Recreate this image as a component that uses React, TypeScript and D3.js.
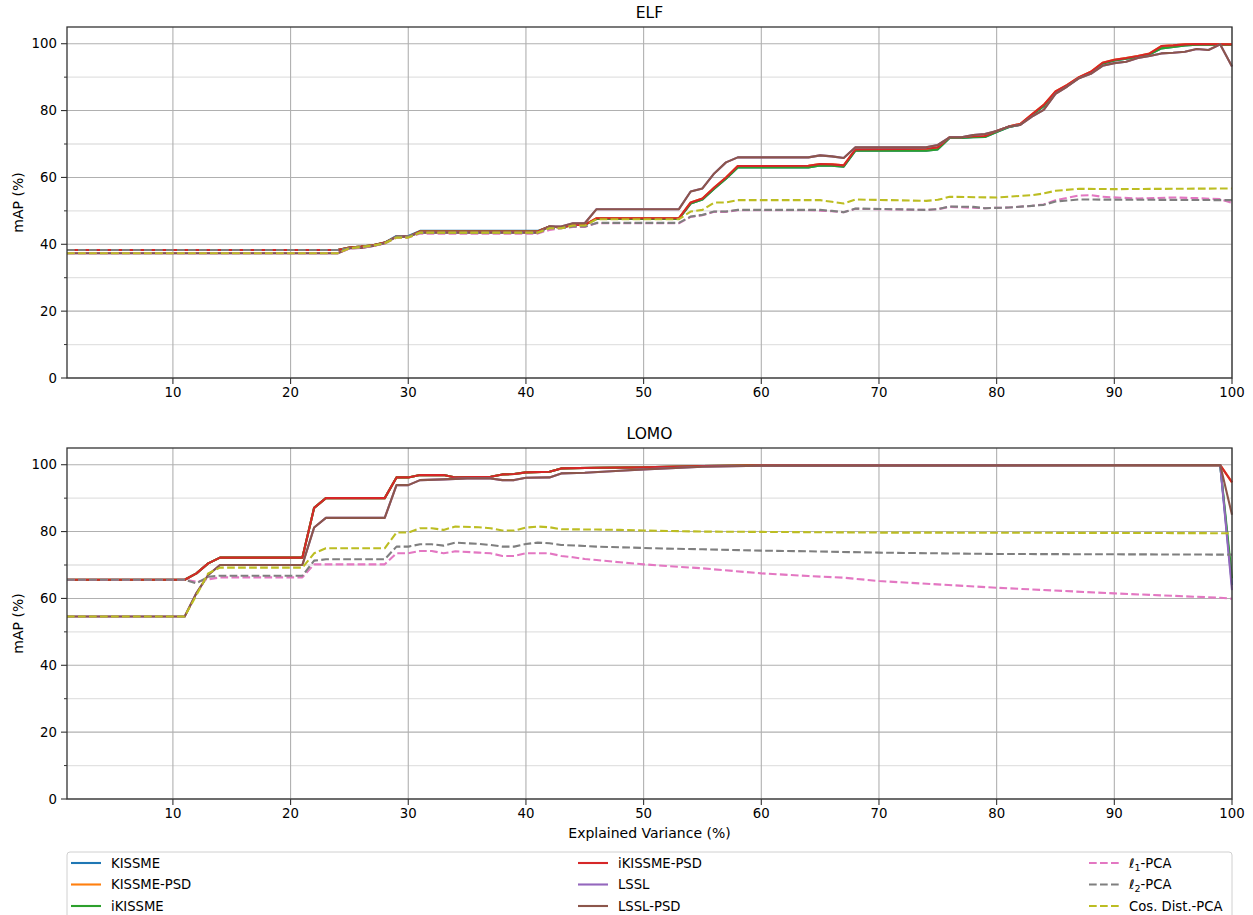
import * as d3 from "d3";
import React from "react";

type Pt = [number, number];

// ---- data ----
const methodNames = [
  "KISSME",
  "KISSME-PSD",
  "iKISSME",
  "iKISSME-PSD",
  "LSSL",
  "LSSL-PSD",
  "l1-PCA",
  "l2-PCA",
  "Cos. Dist.-PCA",
];
const methodColors = d3.schemeCategory10.slice(0, 9);
const dashedMethods = ["l1-PCA", "l2-PCA", "Cos. Dist.-PCA"];

const xTicks = [10, 20, 30, 40, 50, 60, 70, 80, 90, 100];
const yTicks = [0, 20, 40, 60, 80, 100];
const yMinorTicks = [10, 30, 50, 70, 90];

// ELF
const elfIkissmePsd: Pt[] = [
  [1, 38.3], [24, 38.3], [25, 39.0], [26, 39.3], [27, 39.7], [28, 40.5], [29, 42.3], [30, 42.3],
  [31, 43.8], [41, 43.8], [42, 45.3], [43, 45.0], [44, 45.8], [45, 45.8], [46, 47.8], [53, 47.8],
  [54, 52.5], [55, 53.7], [56, 57.0], [57, 60.0], [58, 63.4], [64, 63.5], [65, 64.0], [66, 63.9],
  [67, 63.6], [68, 68.4], [74, 68.6], [75, 69.0], [76, 72.0], [77, 72.0], [78, 72.3], [79, 72.4],
  [80, 73.9], [81, 75.2], [82, 76.0], [83, 78.9], [84, 81.7], [85, 85.7], [86, 87.7], [87, 90.0],
  [88, 91.6], [89, 94.3], [90, 95.2], [91, 95.7], [92, 96.3], [93, 97.1], [94, 99.3], [95, 99.5],
  [96, 99.8], [97, 99.9], [100, 99.8],
];
const elfKissmePsd: Pt[] = elfIkissmePsd;
const elfIkissme: Pt[] = [
  [1, 38.3], [24, 38.3], [25, 39.0], [26, 39.3], [27, 39.7], [28, 40.5], [29, 42.3], [30, 42.3],
  [31, 43.8], [41, 43.8], [42, 45.3], [43, 45.0], [44, 45.8], [45, 45.8], [46, 47.6], [53, 47.6],
  [54, 52.2], [55, 53.4], [56, 56.6], [57, 59.6], [58, 63.0], [64, 63.0], [65, 63.6], [66, 63.5],
  [67, 63.2], [68, 68.0], [74, 68.0], [75, 68.4], [76, 71.8], [77, 71.8], [78, 72.0], [79, 72.1],
  [80, 73.6], [81, 75.0], [82, 75.8], [83, 78.6], [84, 81.3], [85, 85.4], [86, 87.4], [87, 89.8],
  [88, 91.3], [89, 94.0], [90, 95.0], [91, 95.5], [92, 96.0], [93, 96.8], [94, 98.6], [95, 99.0],
  [96, 99.5], [97, 99.7], [100, 99.7],
];
const elfKissme: Pt[] = [
  [1, 38.3], [24, 38.3], [25, 39.0], [26, 39.3], [27, 39.7], [28, 40.5], [29, 42.5], [30, 42.5],
  [31, 44.0], [41, 44.0], [42, 45.3], [43, 45.0], [44, 45.8], [45, 45.8], [46, 47.6], [53, 47.6],
  [54, 52.2], [55, 53.4], [56, 56.6], [57, 59.6], [58, 63.0], [64, 63.0], [65, 63.6], [66, 63.5],
  [67, 63.2], [68, 68.0], [74, 68.0], [75, 68.4], [76, 71.8], [77, 71.8], [78, 72.0], [79, 72.1],
  [80, 73.6], [81, 75.0], [82, 75.8], [83, 78.6], [84, 81.3], [85, 85.4], [86, 87.4], [87, 89.8],
  [88, 91.3], [89, 94.0], [90, 95.0], [91, 95.5], [92, 96.0], [93, 96.8], [94, 98.6], [95, 99.0],
  [96, 99.5], [97, 99.7], [100, 99.7],
];
const elfLsslPsd: Pt[] = [
  [1, 37.3], [24, 37.3], [25, 38.8], [26, 38.9], [27, 39.5], [28, 40.3], [29, 42.3], [30, 42.3],
  [31, 43.5], [41, 43.5], [42, 45.3], [43, 45.3], [44, 46.3], [45, 46.3], [46, 50.5], [53, 50.5],
  [54, 55.8], [55, 56.7], [56, 61.2], [57, 64.5], [58, 66.0], [64, 66.0], [65, 66.6], [66, 66.3],
  [67, 65.8], [68, 69.0], [74, 69.0], [75, 69.7], [76, 72.0], [77, 72.0], [78, 72.7], [79, 73.0],
  [80, 73.9], [81, 75.2], [82, 75.7], [83, 78.2], [84, 80.2], [85, 85.0], [86, 87.2], [87, 89.7],
  [88, 91.0], [89, 93.4], [90, 94.2], [91, 94.6], [92, 95.7], [93, 96.3], [94, 97.1], [95, 97.3],
  [96, 97.6], [97, 98.4], [98, 98.1], [99, 99.8], [100, 93.2],
];
const elfLssl: Pt[] = elfLsslPsd;
const elfL1: Pt[] = [
  [1, 37.3], [24, 37.3], [25, 38.7], [26, 39.0], [27, 39.5], [28, 40.2], [29, 42.0], [30, 42.0],
  [31, 43.2], [41, 43.2], [42, 44.3], [43, 44.8], [44, 45.2], [45, 45.2], [46, 46.3], [53, 46.3],
  [54, 48.2], [55, 48.7], [56, 49.7], [57, 49.7], [58, 50.2], [64, 50.2], [66, 49.9], [67, 49.6],
  [68, 50.6], [74, 50.3], [75, 50.5], [76, 51.2], [79, 50.8], [81, 51.0], [83, 51.5], [84, 51.9],
  [85, 53.2], [87, 54.6], [88, 54.7], [89, 54.2], [92, 53.7], [95, 54.0], [97, 53.8], [99, 53.5],
  [100, 52.4],
];
const elfL2: Pt[] = [
  [1, 38.3], [24, 38.3], [25, 38.8], [26, 39.2], [27, 39.6], [28, 40.3], [29, 42.3], [30, 42.3],
  [31, 43.4], [41, 43.4], [42, 44.8], [43, 44.8], [44, 45.3], [45, 45.3], [46, 46.4], [53, 46.4],
  [54, 48.3], [55, 48.8], [56, 49.8], [57, 49.8], [58, 50.3], [65, 50.3], [66, 50.0], [67, 49.6],
  [68, 50.7], [74, 50.3], [75, 50.5], [76, 51.3], [78, 51.2], [79, 50.8], [81, 51.0], [83, 51.5],
  [84, 51.8], [85, 52.8], [87, 53.4], [100, 53.2],
];
const elfCos: Pt[] = [
  [1, 37.3], [24, 37.3], [25, 38.8], [26, 39.2], [27, 39.6], [28, 40.3], [29, 42.0], [30, 42.0],
  [31, 43.5], [41, 43.5], [42, 44.8], [43, 44.8], [44, 45.6], [45, 45.6], [46, 47.5], [53, 47.5],
  [54, 49.8], [55, 50.3], [56, 52.5], [57, 52.5], [58, 53.2], [65, 53.2], [66, 52.7], [67, 52.2],
  [68, 53.4], [74, 53.0], [75, 53.3], [76, 54.2], [80, 54.0], [83, 54.7], [84, 55.2], [85, 56.0],
  [87, 56.6], [90, 56.5], [100, 56.7],
];

// LOMO
const lomoIkissmePsd: Pt[] = [
  [1, 65.6], [11, 65.6], [12, 67.5], [13, 70.5], [14, 72.2], [21, 72.2], [22, 87.1], [23, 90.0],
  [28, 90.0], [29, 96.2], [30, 96.2], [31, 96.9], [33, 96.9], [34, 96.2], [37, 96.4], [38, 97.1],
  [39, 97.2], [40, 97.7], [42, 97.9], [43, 98.9], [46, 99.1], [50, 99.2], [55, 99.6], [60, 99.8],
  [99, 99.9], [100, 94.7],
];
const lomoKissmePsd: Pt[] = lomoIkissmePsd;
const lomoIkissme: Pt[] = [
  [1, 65.6], [11, 65.6], [12, 67.5], [13, 70.5], [14, 72.2], [21, 72.2], [22, 87.1], [23, 90.0],
  [28, 90.0], [29, 96.2], [30, 96.2], [31, 96.9], [33, 96.9], [34, 96.2], [37, 96.4], [38, 97.1],
  [39, 97.2], [40, 97.7], [42, 97.9], [43, 98.9], [46, 99.1], [50, 99.2], [55, 99.6], [60, 99.8],
  [99, 99.9], [100, 66.0],
];
const lomoKissme: Pt[] = [
  [1, 65.6], [11, 65.6], [12, 67.5], [13, 70.5], [14, 72.2], [21, 72.2], [22, 87.1], [23, 90.0],
  [28, 90.0], [29, 96.2], [30, 96.2], [31, 96.9], [33, 96.9], [34, 96.2], [37, 96.4], [38, 97.1],
  [39, 97.2], [40, 97.7], [42, 97.9], [43, 98.9], [46, 99.1], [50, 99.2], [55, 99.6], [60, 99.8],
  [99, 99.9], [100, 64.0],
];
const lomoLsslPsd: Pt[] = [
  [1, 54.6], [11, 54.6], [12, 61.6], [13, 67.0], [14, 70.0], [21, 70.0], [22, 81.2], [23, 84.1],
  [28, 84.1], [29, 93.9], [30, 93.9], [31, 95.4], [33, 95.6], [35, 95.9], [37, 95.9], [38, 95.4],
  [39, 95.4], [40, 96.1], [42, 96.2], [43, 97.4], [45, 97.6], [48, 98.2], [50, 98.6], [55, 99.4],
  [60, 99.7], [99, 99.9], [100, 85.0],
];
const lomoLssl: Pt[] = [
  [1, 54.6], [11, 54.6], [12, 61.6], [13, 67.0], [14, 70.0], [21, 70.0], [22, 81.2], [23, 84.1],
  [28, 84.1], [29, 93.9], [30, 93.9], [31, 95.4], [33, 95.6], [35, 95.9], [37, 95.9], [38, 95.4],
  [39, 95.4], [40, 96.1], [42, 96.2], [43, 97.4], [45, 97.6], [48, 98.2], [50, 98.6], [55, 99.4],
  [60, 99.7], [99, 99.9], [100, 62.5],
];
const lomoL1: Pt[] = [
  [1, 65.6], [11, 65.6], [12, 65.0], [13, 65.7], [14, 66.3], [21, 66.3], [22, 70.2], [28, 70.2],
  [29, 73.5], [30, 73.5], [31, 74.2], [32, 74.2], [33, 73.5], [34, 74.1], [36, 73.7], [37, 73.5],
  [38, 72.7], [39, 72.7], [40, 73.5], [42, 73.5], [43, 72.7], [44, 72.3], [45, 71.8], [46, 71.5],
  [48, 70.8], [50, 70.2], [52, 69.7], [55, 69.0], [60, 67.5], [64, 66.7], [67, 66.2], [70, 65.2],
  [80, 63.2], [90, 61.5], [99, 60.2], [100, 59.9],
];
const lomoL2: Pt[] = [
  [1, 65.6], [11, 65.6], [12, 64.5], [13, 66.5], [14, 66.8], [21, 66.8], [22, 71.3], [23, 71.7],
  [28, 71.7], [29, 75.5], [30, 75.5], [31, 76.2], [32, 76.2], [33, 75.8], [34, 76.7], [36, 76.3],
  [37, 76.0], [38, 75.5], [39, 75.5], [40, 76.3], [41, 76.7], [42, 76.5], [43, 76.0], [45, 75.7],
  [46, 75.5], [48, 75.3], [50, 75.1], [52, 74.9], [55, 74.7], [60, 74.3], [64, 74.1], [70, 73.7],
  [80, 73.3], [90, 73.2], [100, 73.1],
];
const lomoCos: Pt[] = [
  [1, 54.6], [11, 54.6], [12, 61.0], [13, 67.5], [14, 69.2], [21, 69.2], [22, 73.5], [23, 75.0],
  [28, 75.0], [29, 79.7], [30, 79.7], [31, 81.0], [32, 81.0], [33, 80.5], [34, 81.5], [36, 81.3],
  [37, 81.0], [38, 80.3], [39, 80.3], [40, 81.2], [41, 81.5], [42, 81.3], [43, 80.7], [46, 80.6],
  [48, 80.5], [50, 80.3], [55, 80.0], [60, 79.9], [70, 79.7], [90, 79.6], [100, 79.5],
];

const elfSeries = [elfKissme, elfKissmePsd, elfIkissme, elfIkissmePsd, elfLssl, elfLsslPsd, elfL1, elfL2, elfCos];
const lomoSeries = [lomoKissme, lomoKissmePsd, lomoIkissme, lomoIkissmePsd, lomoLssl, lomoLsslPsd, lomoL1, lomoL2, lomoCos];

// ---- layout ----
const width = 1253;
const height = 915;
const left = 67;
const right = 1232;
const font = "'DejaVu Sans', sans-serif";
const dash = "7.7 3.3";

const x = d3.scaleLinear().domain([1, 100]).range([left, right]);

const Panel: React.FC<{ title: string; top: number; bottom: number; series: Pt[][]; xLabel?: string }> = ({
  title,
  top,
  bottom,
  series,
  xLabel,
}) => {
  const y = d3.scaleLinear().domain([0, 105]).range([bottom, top]);
  const line = d3
    .line<Pt>()
    .x((d) => x(d[0]))
    .y((d) => y(d[1]));

  return (
    <g>
      <text x={(left + right) / 2} y={top - 9} textAnchor="middle" fontSize={15.5} fill="#000">
        {title}
      </text>
      {/* grid */}
      {yMinorTicks.map((t) => (
        <line key={"gm" + t} x1={left} x2={right} y1={y(t)} y2={y(t)} stroke="#e2e2e2" strokeWidth={1.3} />
      ))}
      {yTicks.map((t) => (
        <line key={"gy" + t} x1={left} x2={right} y1={y(t)} y2={y(t)} stroke="#b0b0b0" strokeWidth={1.1} />
      ))}
      {xTicks.map((t) => (
        <line key={"gx" + t} x1={x(t)} x2={x(t)} y1={top} y2={bottom} stroke="#b0b0b0" strokeWidth={1.1} />
      ))}
      {/* series */}
      {series.map((pts, i) => (
        <path
          key={methodNames[i]}
          d={line(pts) ?? ""}
          fill="none"
          stroke={methodColors[i]}
          strokeWidth={2.1}
          strokeLinejoin="round"
          strokeDasharray={dashedMethods.includes(methodNames[i]) ? dash : undefined}
        />
      ))}
      {/* frame */}
      <rect x={left} y={top} width={right - left} height={bottom - top} fill="none" stroke="#333" strokeWidth={1.3} />
      {/* y axis */}
      {yTicks.map((t) => (
        <g key={"ty" + t}>
          <line x1={left - 6} x2={left} y1={y(t)} y2={y(t)} stroke="#333" strokeWidth={1.1} />
          <text x={left - 10} y={y(t)} dy="0.35em" textAnchor="end" fontSize={13.3} fill="#000">
            {t}
          </text>
        </g>
      ))}
      {yMinorTicks.map((t) => (
        <line key={"tm" + t} x1={left - 3} x2={left} y1={y(t)} y2={y(t)} stroke="#333" strokeWidth={1} />
      ))}
      <text
        transform={`translate(18.5,${(top + bottom) / 2}) rotate(-90)`}
        dy="0.35em"
        textAnchor="middle"
        fontSize={14}
        fill="#000"
      >
        mAP (%)
      </text>
      {/* x axis */}
      {xTicks.map((t) => (
        <g key={"tx" + t}>
          <line x1={x(t)} x2={x(t)} y1={bottom} y2={bottom + 6} stroke="#333" strokeWidth={1.1} />
          <text x={x(t)} y={bottom + 10} dy="0.71em" textAnchor="middle" fontSize={13.3} fill="#000">
            {t}
          </text>
        </g>
      ))}
      {xLabel && (
        <text x={(left + right) / 2} y={bottom + 39} textAnchor="middle" fontSize={14} fill="#000">
          {xLabel}
        </text>
      )}
    </g>
  );
};

const legendCols = [71, 578, 1089];
const legendRows = [863, 884.5, 906];

const LegendLabel: React.FC<{ name: string }> = ({ name }) => {
  if (name === "l1-PCA" || name === "l2-PCA") {
    return (
      <>
        <tspan fontStyle="italic">ℓ</tspan>
        <tspan fontSize={9.5} dy={3}>
          {name[1]}
        </tspan>
        <tspan dy={-3}>-PCA</tspan>
      </>
    );
  }
  return <>{name}</>;
};

export default function App() {
  return (
    <svg
      width={width}
      height={height}
      style={{ position: "absolute", left: 0, top: 0, background: "#fff" }}
      fontFamily={font}
    >
      <rect width={width} height={height} fill="#fff" />
      <Panel title="ELF" top={27} bottom={378} series={elfSeries} />
      <Panel title="LOMO" top={448} bottom={799} series={lomoSeries} xLabel="Explained Variance (%)" />
      {/* legend */}
      <rect x={left} y={852} width={right - left} height={90} rx={3} fill="#fff" stroke="#d0d0d0" strokeWidth={1} />
      {methodNames.map((name, i) => {
        const cx = legendCols[Math.floor(i / 3)];
        const cy = legendRows[i % 3];
        return (
          <g key={"lg" + name}>
            <line
              x1={cx}
              x2={cx + 30}
              y1={cy}
              y2={cy}
              stroke={methodColors[i]}
              strokeWidth={2.1}
              strokeDasharray={dashedMethods.includes(name) ? dash : undefined}
            />
            <text x={cx + 40} y={cy} dy="0.35em" fontSize={13.2} fill="#000">
              <LegendLabel name={name} />
            </text>
          </g>
        );
      })}
    </svg>
  );
}
